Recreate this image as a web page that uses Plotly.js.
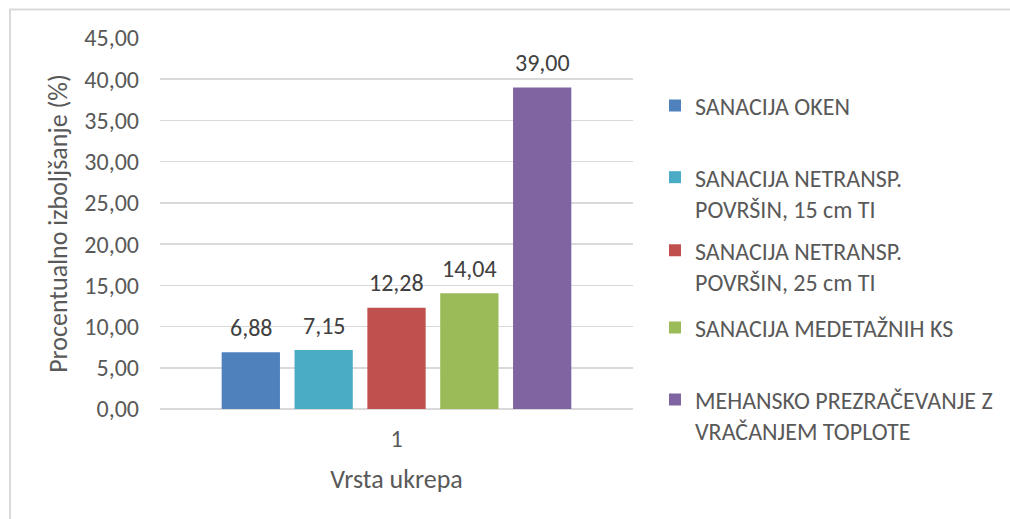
<!DOCTYPE html>
<html>
<head>
<meta charset="utf-8">
<script src="https://cdn.plot.ly/plotly-3.0.1.min.js"></script>
<style>html,body{margin:0;padding:0;background:#fff;}#chart{width:1010px;height:519px;}</style>
</head>
<body>
<div id="chart"></div>
<script>
const categories = ["1"];
const seriesNames = [
  "SANACIJA OKEN",
  "SANACIJA NETRANSP.<br>POVRŠIN, 15 cm TI",
  "SANACIJA NETRANSP.<br>POVRŠIN, 25 cm TI",
  "SANACIJA MEDETAŽNIH KS",
  "MEHANSKO PREZRAČEVANJE Z<br>VRAČANJEM TOPLOTE"
];
const seriesValues = [6.88, 7.15, 12.28, 14.04, 39.00];
const seriesColors = ["#4F81BD", "#4BACC6", "#C0504D", "#9BBB59", "#8064A2"];
const yTickValues = [0, 5, 10, 15, 20, 25, 30, 35, 40, 45];

const FONT = "Carlito, Lato, 'Open Sans', sans-serif";
const TXT = "#595959";
const BARGAP = 0.23;
const BARGROUPGAP = 0.2;
const legendNames = ["legend", "legend2", "legend3", "legend4", "legend5"];
const legendY = [0.8167, 0.582, 0.385, 0.2183, -0.017];

const traces = seriesNames.map((name, i) => ({
  type: "bar",
  name: name,
  x: categories,
  y: [seriesValues[i]],
  marker: {color: seriesColors[i]},
  hoverinfo: "none",
  legend: legendNames[i]
}));

// data labels placed from the data via the axes
const nSeries = seriesValues.length;
const groupWidth = 1 - BARGAP;
const slot = groupWidth / nSeries;
const annotations = seriesValues.map((v, i) => ({
  xref: "x", yref: "y",
  x: -groupWidth / 2 + slot * (i + 0.5),
  y: v,
  text: v.toFixed(2).replace(".", ","),
  showarrow: false,
  yanchor: "middle",
  xanchor: "center",
  yshift: 25,
  font: {family: FONT, size: 24, color: "#404040"}
}));

const layout = {
  width: 1010,
  height: 519,
  margin: {l: 160, r: 377, t: 38, b: 110},
  paper_bgcolor: "#ffffff",
  plot_bgcolor: "#ffffff",
  separators: ",.",
  barmode: "group",
  bargap: BARGAP,
  bargroupgap: BARGROUPGAP,
  font: {family: FONT, size: 24, color: TXT},
  xaxis: {
    type: "category",
    showgrid: false,
    showline: false,
    zeroline: false,
    ticks: "",
    ticklabelstandoff: 13,
    tickfont: {family: FONT, size: 24, color: TXT},
    title: {text: "Vrsta ukrepa", font: {family: FONT, size: 26, color: TXT}, standoff: 17}
  },
  yaxis: {
    range: [0, 45],
    tickvals: yTickValues,
    tickformat: ".2f",
    showgrid: true,
    gridcolor: "#d9d9d9",
    gridwidth: 1.5,
    zeroline: true,
    zerolinecolor: "#d9d9d9",
    zerolinewidth: 1.5,
    showline: false,
    ticks: "",
    ticklabelstandoff: 20,
    tickfont: {family: FONT, size: 24, color: TXT},
    title: {text: "Procentualno izboljšanje (%)", font: {family: FONT, size: 26, color: TXT}, standoff: 9}
  },
  annotations: annotations,
  shapes: [{
    type: "rect", xref: "paper", yref: "paper",
    x0: -0.3171, x1: 1.82, y0: -0.32, y1: 1.0768,
    line: {color: "#d9d9d9", width: 2}, fillcolor: "rgba(0,0,0,0)", layer: "below"
  }],
  showlegend: true
};

legendNames.forEach((ln, i) => {
  layout[ln] = {
    x: 1.0465, xanchor: "left",
    y: legendY[i], yanchor: "middle",
    valign: "top",
    bgcolor: "rgba(0,0,0,0)",
    font: {family: FONT, size: 24, color: TXT},
    itemwidth: 30
  };
});

Plotly.newPlot("chart", traces, layout, {displayModeBar: false, staticPlot: true});
</script>
</body>
</html>
